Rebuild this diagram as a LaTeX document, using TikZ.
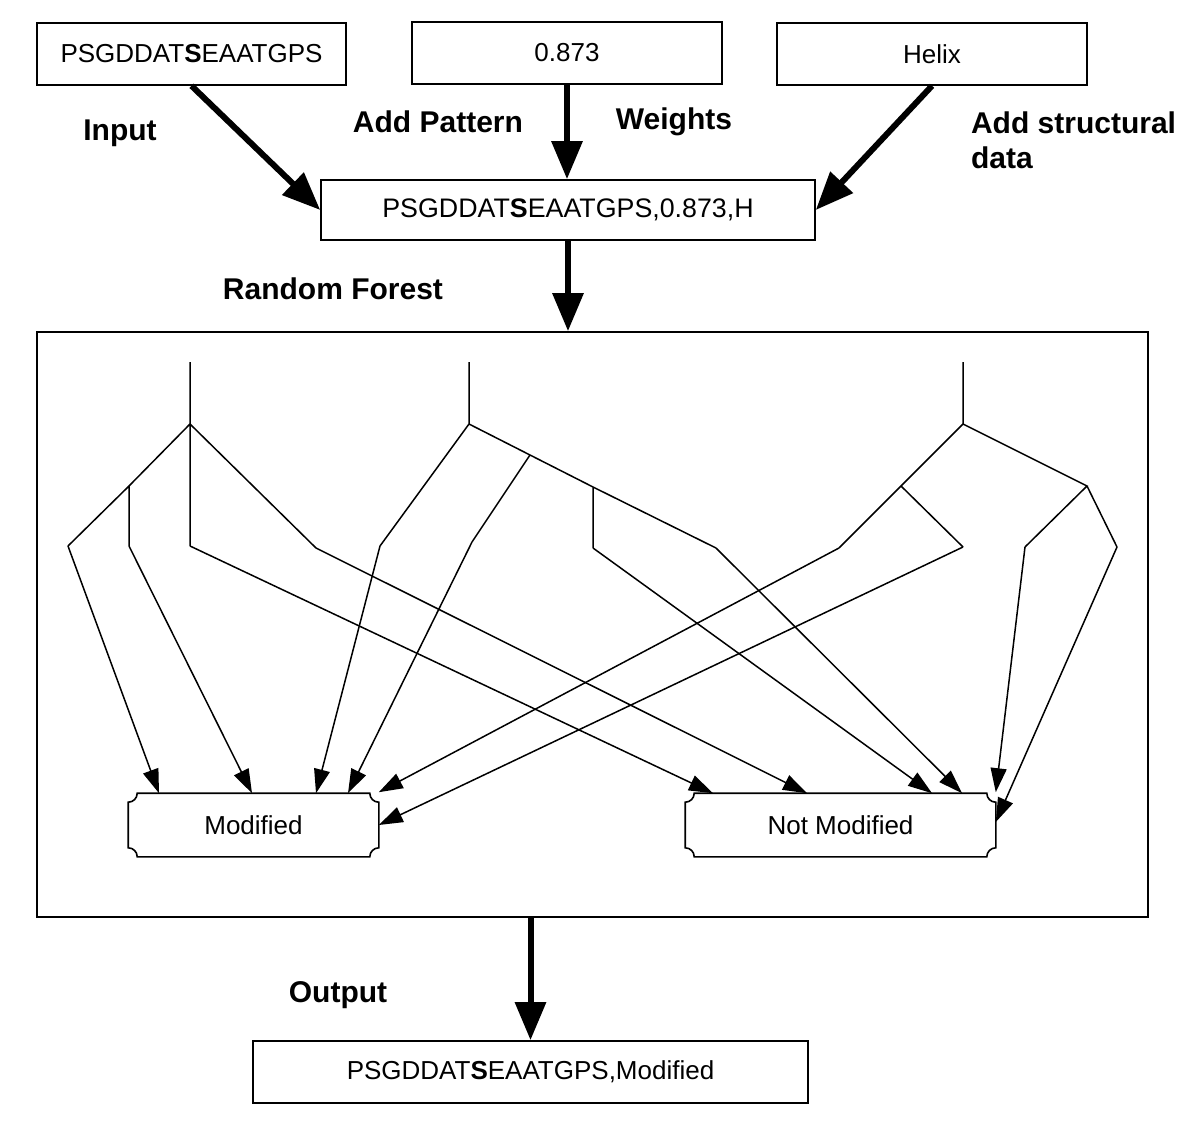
\documentclass[tikz,border=0pt]{standalone}
\usepackage{fontspec}
\setmainfont{Liberation Sans}
\usetikzlibrary{arrows.meta}

% outline with hollowed corners, drawn round a node
\newcommand\scrollbox[1]{%
  \draw[line width=0.8pt] ([xshift=4.5pt]#1.north west) -- ([xshift=-4.5pt]#1.north east)
    .. controls ([xshift=-4.5pt,yshift=-2.5pt]#1.north east) and ([xshift=-2.5pt,yshift=-4.5pt]#1.north east) .. ([yshift=-4.5pt]#1.north east)
    -- ([yshift=4.5pt]#1.south east)
    .. controls ([xshift=-2.5pt,yshift=4.5pt]#1.south east) and ([xshift=-4.5pt,yshift=2.5pt]#1.south east) .. ([xshift=-4.5pt]#1.south east)
    -- ([xshift=4.5pt]#1.south west)
    .. controls ([xshift=4.5pt,yshift=2.5pt]#1.south west) and ([xshift=2.5pt,yshift=4.5pt]#1.south west) .. ([yshift=4.5pt]#1.south west)
    -- ([yshift=-4.5pt]#1.north west)
    .. controls ([xshift=2.5pt,yshift=-4.5pt]#1.north west) and ([xshift=4.5pt,yshift=-2.5pt]#1.north west) .. cycle;}

\begin{document}
\begin{tikzpicture}[x=0.5pt,y=-0.5pt,
   box/.style={draw,line width=0.8pt,minimum height=31pt,inner sep=0pt,font=\fontsize{13}{15}\selectfont},
   lbl/.style={font=\fontsize{15}{17.5}\selectfont\bfseries},
   bigarrow/.style={line width=3pt,-{Triangle[length=19pt,width=15pt]}},
   branch/.style={line width=0.75pt},
   leaf/.style={line width=0.75pt,-{Triangle[length=12pt,width=8pt]}}]
   \useasboundingbox (0,0) rectangle (1200,1146);

   % inputs
   \node[box,minimum width=154.5pt] (seq) at (191.5,54) {PSGDDAT\textbf{S}EAATGPS};
   \node[box,minimum width=155pt] (wt) at (567,53) {0.873};
   \node[box,minimum width=155pt] (hx) at (932,54) {Helix};
   \node[box,minimum width=247pt,minimum height=30pt,font=\fontsize{13.4}{15}\selectfont] (comb) at (568,210) {PSGDDAT\textbf{S}EAATGPS,0.873,H};

   \node[lbl] (inlbl) at (120,133) {Input};
   \node[lbl] (patlbl) at (438,122) {Add Pattern};
   \node[lbl] (wtlbl) at (674,122) {Weights};
   \node[lbl,align=left,anchor=west] (strlbl) at (964,140) {Add structural\\data};
   \node[lbl] (rflbl) at (333,289) {Random Forest};
   \node[lbl] (outlbl) at (338,995) {Output};

   \draw[bigarrow] (seq.south) -- (comb.west);
   \draw[bigarrow] (wt.south) -- (wt.south |- comb.north);
   \draw[bigarrow] (hx.south) -- (comb.east);

   % forest
   \node[draw,line width=0.8pt,minimum width=555.5pt,minimum height=292.5pt] (forest) at (592.5,624.5) {};
   \draw[bigarrow] (comb.south) -- (comb.south |- forest.north);

   \node[box,draw=none,minimum width=124.5pt] (mod) at (253.5,825) {Modified};
   \node[box,draw=none,minimum width=154.5pt] (nmod) at (840.5,825) {Not Modified};
   \scrollbox{mod}
   \scrollbox{nmod}

   % tree 1
   \coordinate (a0) at (190,362); \coordinate (a1) at (190,424);
   \coordinate (a2) at (129,486); \coordinate (a3) at (68,546);
   \coordinate (a4) at (129,546); \coordinate (a5) at (190,546);
   \coordinate (a6) at (316,548);
   \draw[branch] (a0) -- (a1) -- (a2) -- (a3) (a2) -- (a4) (a1) -- (a5) (a1) -- (a6);
   \draw[leaf] (a3) -- ([xshift=-47.25pt]mod.north);
   \draw[leaf] (a4) -- ([xshift=-0.75pt]mod.north);
   \draw[leaf] (a5) -- ([xshift=-63.75pt]nmod.north);
   \draw[leaf] (a6) -- ([xshift=-16.75pt]nmod.north);

   % tree 2
   \coordinate (b0) at (469,362); \coordinate (b1) at (469,424);
   \coordinate (b2) at (380,546); \coordinate (b3) at (530,455);
   \coordinate (b4) at (472,542); \coordinate (b5) at (593,487);
   \coordinate (b6) at (593,548); \coordinate (b7) at (716,548);
   \draw[branch] (b0) -- (b1) -- (b2) (b1) -- (b3) -- (b5) -- (b7) (b3) -- (b4) (b5) -- (b6);
   \draw[leaf] (b2) -- ([xshift=31.25pt]mod.north);
   \draw[leaf] (b4) -- ([xshift=47.25pt]mod.north);
   \draw[leaf] (b6) -- ([xshift=45.75pt]nmod.north);
   \draw[leaf] (b7) -- ([xshift=60.75pt]nmod.north);

   % tree 3
   \coordinate (c0) at (963,362); \coordinate (c1) at (963,424);
   \coordinate (c2) at (901,486); \coordinate (c3) at (839,548);
   \coordinate (c4) at (963,547); \coordinate (c5) at (1087,486);
   \coordinate (c6) at (1025,547); \coordinate (c7) at (1117,547);
   \draw[branch] (c0) -- (c1) -- (c2) -- (c3) (c2) -- (c4) (c1) -- (c5) -- (c6) (c5) -- (c7);
   \draw[leaf] (c3) -- ([yshift=0.5pt]mod.north east);
   \draw[leaf] (c4) -- (mod.east);
   \draw[leaf] (c6) -- ([yshift=0.5pt]nmod.north east);
   \draw[leaf] (c7) -- ([yshift=1.5pt]nmod.east);

   % output
   \node[box,minimum width=277.5pt] (out) at (530.5,1072) {PSGDDAT\textbf{S}EAATGPS,Modified};
   \draw[bigarrow] (out.north |- forest.south) -- (out.north);
\end{tikzpicture}
\end{document}
